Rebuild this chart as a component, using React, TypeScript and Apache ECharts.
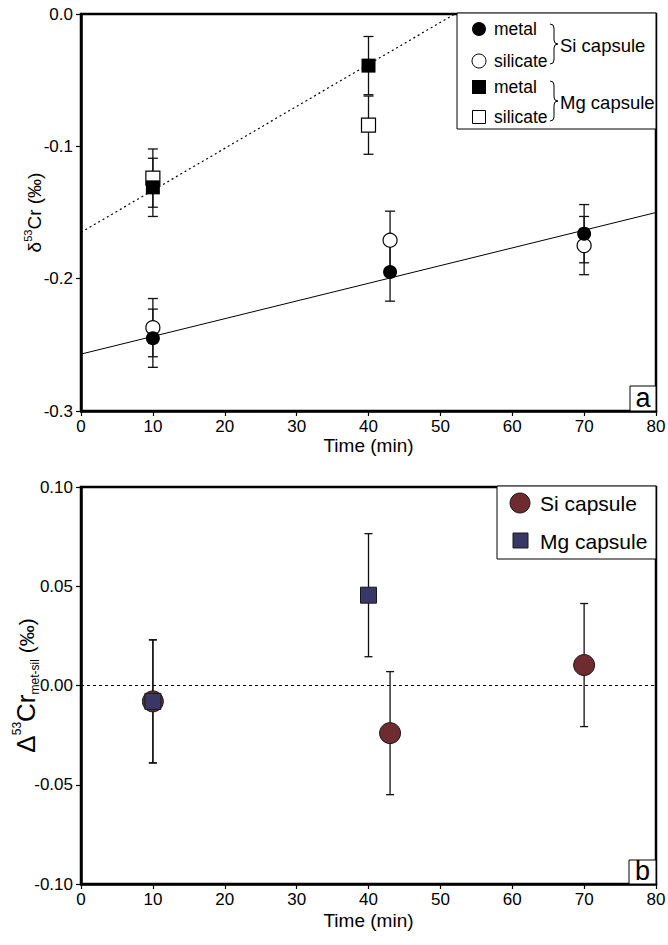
import React, { useEffect, useRef } from "react";
import * as echarts from "echarts";

// ---------- data ----------
const siTimes = [10, 43, 70];
const siMetal = [-0.245, -0.195, -0.166];
const siSilicate = [-0.237, -0.171, -0.175];
const mgTimes = [10, 40];
const mgMetal = [-0.131, -0.039];
const mgSilicate = [-0.124, -0.084];
const deltaErr = 0.022;

const siFit = [
  [0, -0.257],
  [80, -0.15],
];
const mgFit = [
  [0, -0.165],
  [52, 0],
];

const siDelta = [-0.008, -0.024, 0.0103];
const mgDelta = [-0.008, 0.0455];
const bigDeltaErr = 0.031;

const xTicks = [0, 10, 20, 30, 40, 50, 60, 70, 80];
const topYTicks = [0, -0.1, -0.2, -0.3];
const bottomYTicks = [0.1, 0.05, 0, -0.05, -0.1];

const FONT = "'Liberation Sans', Arial, Helvetica, sans-serif";
const SI_COLOR = "#6e2b30";
const MG_COLOR = "#393766";

echarts.graphic.registerShape(
  "brace",
  echarts.graphic.extendPath(
    "M0,0 Q4,0 4,4 L4,16 Q4,20 8,20 Q4,20 4,24 L4,36 Q4,40 0,40",
    {}
  )
);

function errorBarSeries(
  name: string,
  xIdx: number,
  pts: number[][],
  capHalf: number
) {
  return {
    name,
    type: "custom",
    xAxisIndex: xIdx,
    yAxisIndex: xIdx,
    data: pts,
    encode: { x: 0, y: 1 },
    z: 2,
    renderItem: (params: any, api: any) => {
      const x = api.value(0);
      const y = api.value(1);
      const e = api.value(2);
      const top = api.coord([x, y + e]);
      const bot = api.coord([x, y - e]);
      const st = { stroke: "#111", lineWidth: 1.3 };
      return {
        type: "group",
        children: [
          { type: "line", shape: { x1: top[0], y1: top[1], x2: bot[0], y2: bot[1] }, style: st },
          { type: "line", shape: { x1: top[0] - capHalf, y1: top[1], x2: top[0] + capHalf, y2: top[1] }, style: st },
          { type: "line", shape: { x1: bot[0] - capHalf, y1: bot[1], x2: bot[0] + capHalf, y2: bot[1] }, style: st },
        ],
      };
    },
  };
}

function xAxisCfg(gridIndex: number, gap: number) {
  return {
    type: "value",
    gridIndex,
    min: xTicks[0],
    max: xTicks[xTicks.length - 1],
    interval: 10,
    name: "Time (min)",
    nameLocation: "middle",
    nameGap: gap,
    nameMoveOverlap: false,
    nameTextStyle: { fontFamily: FONT, fontSize: 19, color: "#000" },
    axisLine: { show: true, onZero: false, lineStyle: { color: "#000", width: 2.5 } },
    axisTick: { show: true, length: 5, lineStyle: { color: "#000", width: 1.2 } },
    axisLabel: { fontFamily: FONT, fontSize: 17, color: "#000", margin: 7 },
    splitLine: { show: false },
  };
}

const gridBase = {
  left: 81,
  width: 575,
  height: 397,
  show: true,
  borderColor: "#000",
  borderWidth: 2.5,
  backgroundColor: "transparent",
  containLabel: false,
  outerBoundsMode: "none",
};

export default function App() {
  const ref = useRef<HTMLDivElement>(null);

  useEffect(() => {
    if (!ref.current) return;
    const chart = echarts.init(ref.current, null, { renderer: "svg" });

    const topErr = [
      ...siTimes.map((t, i) => [t, siSilicate[i], deltaErr]),
      ...siTimes.map((t, i) => [t, siMetal[i], deltaErr]),
      ...mgTimes.map((t, i) => [t, mgSilicate[i], deltaErr]),
      ...mgTimes.map((t, i) => [t, mgMetal[i], deltaErr]),
    ];
    const botErr = [
      ...siTimes.map((t, i) => [t, siDelta[i], bigDeltaErr]),
      ...mgTimes.map((t, i) => [t, mgDelta[i], bigDeltaErr]),
    ];

    const option: any = {
      animation: false,
      backgroundColor: "#fff",
      textStyle: { fontFamily: FONT },
      grid: [
        { ...gridBase, top: 14 },
        { ...gridBase, top: 487 },
      ],
      xAxis: [xAxisCfg(0, 25), xAxisCfg(1, 27)],
      yAxis: [
        {
          type: "value",
          gridIndex: 0,
          min: topYTicks[topYTicks.length - 1],
          max: topYTicks[0],
          interval: 0.1,
          name: "{m|δ}{s|53}{m|Cr (‰)}",
          nameLocation: "middle",
          nameRotate: 90,
          nameGap: 37,
          nameMoveOverlap: false,
          nameTextStyle: {
            rich: {
              m: { fontFamily: FONT, fontSize: 19, color: "#000", lineHeight: 22, verticalAlign: "bottom" },
              s: { fontFamily: FONT, fontSize: 11, color: "#000", lineHeight: 22, verticalAlign: "top" },
            },
          },
          axisLine: { show: true, onZero: false, lineStyle: { color: "#000", width: 2.5 } },
          axisTick: { show: true, length: 5, lineStyle: { color: "#000", width: 1.2 } },
          axisLabel: {
            fontFamily: FONT,
            fontSize: 17,
            color: "#000",
            margin: 8,
            formatter: (v: number) => (Math.abs(v) < 1e-9 ? "0.0" : v.toFixed(1)),
          },
          splitLine: { show: false },
        },
        {
          type: "value",
          gridIndex: 1,
          min: bottomYTicks[bottomYTicks.length - 1],
          max: bottomYTicks[0],
          interval: 0.05,
          name: "{m|Δ}{s|53}{m|Cr}{b|met-sil}{p| (‰)}",
          nameLocation: "middle",
          nameRotate: 90,
          nameGap: 40,
          nameMoveOverlap: false,
          nameTextStyle: {
            rich: {
              m: { fontFamily: FONT, fontSize: 26, color: "#000", lineHeight: 30, verticalAlign: "middle" },
              s: { fontFamily: FONT, fontSize: 12, color: "#000", lineHeight: 30, verticalAlign: "top" },
              b: { fontFamily: FONT, fontSize: 12, color: "#000", lineHeight: 30, verticalAlign: "bottom" },
              p: { fontFamily: FONT, fontSize: 21, color: "#000", lineHeight: 30, verticalAlign: "middle" },
            },
          },
          axisLine: { show: true, onZero: false, lineStyle: { color: "#000", width: 2.5 } },
          axisTick: { show: true, length: 5, lineStyle: { color: "#000", width: 1.2 } },
          axisLabel: {
            fontFamily: FONT,
            fontSize: 17,
            color: "#000",
            margin: 8,
            formatter: (v: number) => (Math.abs(v) < 1e-9 ? "0.00" : v.toFixed(2)),
          },
          splitLine: { show: false },
        },
      ],
      series: [
        {
          name: "Si fit",
          type: "line",
          xAxisIndex: 0,
          yAxisIndex: 0,
          data: siFit,
          symbol: "none",
          clip: true,
          z: 1,
          lineStyle: { color: "#000", width: 1 },
        },
        {
          name: "Mg fit",
          type: "line",
          xAxisIndex: 0,
          yAxisIndex: 0,
          data: mgFit,
          symbol: "none",
          clip: true,
          z: 1,
          lineStyle: { color: "#000", width: 1.2, type: [2, 3] },
        },
        errorBarSeries("top err", 0, topErr, 5),
        {
          name: "Si silicate",
          type: "scatter",
          xAxisIndex: 0,
          yAxisIndex: 0,
          symbol: "circle",
          symbolSize: 14,
          z: 3,
          data: siTimes.map((t, i) => [t, siSilicate[i]]),
          itemStyle: { color: "#fff", borderColor: "#000", borderWidth: 1.2, opacity: 1 },
        },
        {
          name: "Mg silicate",
          type: "scatter",
          xAxisIndex: 0,
          yAxisIndex: 0,
          symbol: "rect",
          symbolSize: 14,
          z: 3,
          data: mgTimes.map((t, i) => [t, mgSilicate[i]]),
          itemStyle: { color: "#fff", borderColor: "#000", borderWidth: 1.2, opacity: 1 },
        },
        {
          name: "Si metal",
          type: "scatter",
          xAxisIndex: 0,
          yAxisIndex: 0,
          symbol: "circle",
          symbolSize: 14,
          z: 4,
          data: siTimes.map((t, i) => [t, siMetal[i]]),
          itemStyle: { color: "#000", opacity: 1 },
        },
        {
          name: "Mg metal",
          type: "scatter",
          xAxisIndex: 0,
          yAxisIndex: 0,
          symbol: "rect",
          symbolSize: 14,
          z: 4,
          data: mgTimes.map((t, i) => [t, mgMetal[i]]),
          itemStyle: { color: "#000", opacity: 1 },
        },
        {
          name: "zero",
          type: "line",
          xAxisIndex: 1,
          yAxisIndex: 1,
          data: [
            [0, 0],
            [80, 0],
          ],
          symbol: "none",
          z: 1,
          lineStyle: { color: "#000", width: 1, type: [3, 3] },
        },
        errorBarSeries("bottom err", 1, botErr, 4),
        {
          name: "Si capsule",
          type: "scatter",
          xAxisIndex: 1,
          yAxisIndex: 1,
          symbol: "circle",
          symbolSize: 21,
          z: 3,
          data: siTimes.map((t, i) => [t, siDelta[i]]),
          itemStyle: { color: SI_COLOR, borderColor: "#1a1a1a", borderWidth: 1, opacity: 1 },
        },
        {
          name: "Mg capsule",
          type: "scatter",
          xAxisIndex: 1,
          yAxisIndex: 1,
          symbol: "rect",
          symbolSize: 16,
          z: 4,
          data: mgTimes.map((t, i) => [t, mgDelta[i]]),
          itemStyle: { color: MG_COLOR, borderColor: "#1a1a1a", borderWidth: 1, opacity: 1 },
        },
      ],
      graphic: [
        // top legend
        { type: "rect", z: 100, shape: { x: 457, y: 13, width: 199, height: 116 }, style: { fill: "#fff", stroke: "#000", lineWidth: 1 } },
        { type: "circle", z: 101, shape: { cx: 479, cy: 29, r: 7 }, style: { fill: "#000" } },
        { type: "circle", z: 101, shape: { cx: 479, cy: 61, r: 7 }, style: { fill: "#fff", stroke: "#000", lineWidth: 1 } },
        { type: "rect", z: 101, shape: { x: 472, y: 80, width: 14, height: 14 }, style: { fill: "#000" } },
        { type: "rect", z: 101, shape: { x: 472.5, y: 110.5, width: 13, height: 13 }, style: { fill: "#fff", stroke: "#000", lineWidth: 1 } },
        { type: "text", z: 101, x: 494, y: 29, style: { text: "metal", fontFamily: FONT, fontSize: 17.5, fill: "#000", verticalAlign: "middle" } },
        { type: "text", z: 101, x: 494, y: 61, style: { text: "silicate", fontFamily: FONT, fontSize: 17.5, fill: "#000", verticalAlign: "middle" } },
        { type: "text", z: 101, x: 494, y: 87, style: { text: "metal", fontFamily: FONT, fontSize: 17.5, fill: "#000", verticalAlign: "middle" } },
        { type: "text", z: 101, x: 494, y: 117, style: { text: "silicate", fontFamily: FONT, fontSize: 17.5, fill: "#000", verticalAlign: "middle" } },
        { type: "brace", z: 101, x: 550, y: 24, style: { fill: "none", stroke: "#000", lineWidth: 1 } },
        { type: "brace", z: 101, x: 550, y: 81, style: { fill: "none", stroke: "#000", lineWidth: 1 } },
        { type: "text", z: 101, x: 560, y: 45, style: { text: "Si capsule", fontFamily: FONT, fontSize: 18.5, fill: "#000", verticalAlign: "middle" } },
        { type: "text", z: 101, x: 560, y: 102, style: { text: "Mg capsule", fontFamily: FONT, fontSize: 18.5, fill: "#000", verticalAlign: "middle" } },
        // panel label a
        { type: "rect", z: 100, shape: { x: 630, y: 386, width: 26, height: 25 }, style: { fill: "#fff", stroke: "#000", lineWidth: 1 } },
        { type: "text", z: 101, x: 643, y: 398, style: { text: "a", fontFamily: FONT, fontSize: 27, fill: "#000", align: "center", verticalAlign: "middle" } },
        // bottom legend
        { type: "rect", z: 100, shape: { x: 497, y: 486, width: 159, height: 73 }, style: { fill: "#fff", stroke: "#000", lineWidth: 1 } },
        { type: "circle", z: 101, shape: { cx: 520, cy: 503, r: 10 }, style: { fill: SI_COLOR, stroke: "#1a1a1a", lineWidth: 1 } },
        { type: "rect", z: 101, shape: { x: 513, y: 533, width: 15, height: 15 }, style: { fill: MG_COLOR, stroke: "#1a1a1a", lineWidth: 1 } },
        { type: "text", z: 101, x: 540, y: 503, style: { text: "Si capsule", fontFamily: FONT, fontSize: 21, fill: "#000", verticalAlign: "middle" } },
        { type: "text", z: 101, x: 540, y: 541, style: { text: "Mg capsule", fontFamily: FONT, fontSize: 21, fill: "#000", verticalAlign: "middle" } },
        // panel label b
        { type: "rect", z: 100, shape: { x: 629, y: 860, width: 27, height: 24 }, style: { fill: "#fff", stroke: "#000", lineWidth: 1 } },
        { type: "text", z: 101, x: 642.5, y: 871, style: { text: "b", fontFamily: FONT, fontSize: 27, fill: "#000", align: "center", verticalAlign: "middle" } },
      ],
    };

    chart.setOption(option);
    return () => chart.dispose();
  }, []);

  return (
    <div
      ref={ref}
      style={{ position: "fixed", left: 0, top: 0, width: 668, height: 945, background: "#fff" }}
    />
  );
}
